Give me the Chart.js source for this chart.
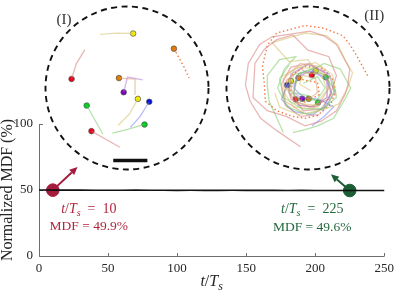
<!DOCTYPE html>
<html><head><meta charset="utf-8">
<script src="https://cdn.jsdelivr.net/npm/chart.js@4"></script>
<style>
html,body{margin:0;padding:0;background:#fff;overflow:hidden}
#wrap{position:relative;width:399px;height:293px}
#main{position:absolute;left:0;top:0}
.inset{position:absolute;width:180px;height:180px}
</style></head><body>
<div id="wrap">
<canvas id="main" width="399" height="293"></canvas>
<div class="inset" style="left:37px;top:-2px"><canvas id="cI" width="180" height="180"></canvas></div>
<div class="inset" style="left:218px;top:-2px"><canvas id="cII" width="180" height="180"></canvas></div>
</div>
<script>
// ---------- main series ----------
const tSteps = [0,10,20,30,40,50,60,70,80,90,100,110,120,130,140,150,160,170,180,190,200,210,220,230,240,250];
const mdfValues = [50.0,49.9,49.9,49.9,49.8,49.8,49.8,49.9,49.8,49.8,49.7,49.8,49.7,49.7,49.8,49.7,49.7,49.7,49.6,49.7,49.6,49.6,49.6,49.6,49.6,49.6];
const xTicks = [0,50,100,150,200,250];
const yTicks = [0,50,100];
const highlightT = [10,225];
const highlightMDF = [49.9,49.6];
const highlightColors = ['#a51b3b','#1d5e35'];
const highlightTextColors = ['#b0263f','#23693d'];
const arrowTipT = [27.9,211.4];
const arrowTipMDF = [67.4,62.0];

// ---------- inset (I) trails (first point = particle position) ----------
const I_yellow1 = [[6.5,57.5],[-11.5,58],[-28.5,56.5]];
const I_orange1 = [[49.5,41.5],[54.5,32.5],[60.5,21.5],[65.5,10.5]];
const I_red1    = [[-58.5,9.5],[-53.5,25.5],[-44.5,40.5]];
const I_orange2 = [[-8.5,10.5],[8.5,9.5],[8.5,-7.5]];
const I_purple  = [[-3.5,-4.5],[0.5,11.5],[16.5,8.5]];
const I_yellow2 = [[11.5,-11.5],[2.5,-27.5],[-9.5,-39.5]];
const I_blue    = [[23.5,-14.5],[13.5,-30.5],[3.5,-41.5]];
const I_green1  = [[-42.5,-18.5],[-25.5,-48.5]];
const I_green2  = [[18.5,-38.5],[1.5,-43.5],[-15.5,-47.5]];
const I_red2    = [[-37.5,-45.5],[-7.5,-62.5]];
const I_scaleBar = [[-14.5,-76.5],[21.5,-76.5]];

// ---------- inset (II) trails ----------
const II_red1 = [[4,13.7],[-8,20],[-23,8],[-18,-12],[2,-20],[22,-12],[30,13],[22,33],[0,40],[-16,56],[-33,51],[-46,41],[-56,26],[-58,-10],[-43,-24],[-23,-30],[-3,-40],[14,-35],[30,-24],[39,-7],[42,3],[44,20],[37,33],[30,46],[17,55],[2,60],[-38,54],[-51,46],[-63,26],[-66,3],[-61,-14],[-50,-32],[-33,-45],[-8,-62]];
const II_red2 = [[-13,-12],[-5,-24],[14,-22],[25,-6],[20,14],[2,26],[-18,22],[-28,4],[-24,-18],[-8,-30],[12,-28]];
const II_orange1 = [[-10,10.7],[-3,8],[10,6],[12,-7],[-3,-15],[-18,-7],[-18,13],[-3,23],[17,20],[27,8],[29,-4],[24,-17],[10,-29],[-3,-32],[-16,-30],[-33,-24],[-45,-14],[-46,3],[-48,23],[-43,45],[-33,58],[-3,66],[17,63],[37,55],[44,46],[52,33],[59,20],[64,11]];
const II_orange2 = [[0.7,-11.3],[10,-5],[8,10],[-8,14],[-18,0],[-10,-18],[10,-20],[22,0],[15,22],[-8,26],[-26,10],[-24,-14],[-5,-26]];
const II_green1 = [[18.7,11.3],[28,-2],[20,-20],[0,-28],[-22,-20],[-32,0],[-25,20],[-13,33],[-30,30],[-43,13],[-43,3],[-41,-14],[-26,-47]];
const II_green2 = [[10.7,-15.3],[0,-8],[-15,-5],[-10,15],[10,22],[17,26],[34,20],[45,0],[40,-10],[27,-32],[10,-40],[-3,-44],[-16,-47]];
const II_yellow1 = [[8,17.7],[0,30],[-20,28],[-38,48],[-3,58],[20,55],[32,45],[39,30],[47,16],[42,0],[32,-17],[12,-24],[-10,-28],[-30,-20],[-35,-5]];
const II_yellow2 = [[-18,7.3],[-25,-5],[-15,-20],[5,-22],[20,-10],[22,8],[10,20],[-10,22],[-28,12]];
const II_blue = [[-22,3],[-28,-12],[-15,-25],[5,-28],[17,-20],[24,-5],[20,10],[5,18],[-10,15],[-15,0],[-5,-10],[12,-12],[27,-20],[17,-30],[4,-40]];
const II_purple = [[-6,-11.3],[-15,-5],[-12,12],[5,18],[20,8],[20,-10],[5,-20],[-10,-18],[-20,-5],[-18,15],[0,25],[22,15],[28,-5],[15,-25]];
const II_greenLoop = [[-5,5],[10,12],[18,0],[10,-12],[-8,-14],[-20,-2],[-15,14],[5,20],[25,10],[30,-10],[15,-22],[-6,-22],[-26,-10],[-30,10],[-20,24]];
const II_tanLoop = [[3,-3],[-9,4],[-4,16],[14,15],[20,-2],[8,-18],[-14,-16],[-24,2],[-14,20],[8,27],[26,14],[30,-8]];

const SERIF = '"Liberation Serif","Times New Roman",serif';
const C = {
  red:   {line:'rgba(215,110,110,0.5)', dot:'#e8001a'},
  yellow:{line:'rgba(210,195,110,0.55)', dot:'#f5ee00'},
  orange:{line:'rgba(220,160,110,0.55)', dot:'#e07b00'},
  orangeDot:{line:'rgba(245,110,50,0.9)', dot:'#e07b00', dash:[1.5,2.5]},
  purple:{line:'rgba(170,110,220,0.5)', dot:'#7d00b8'},
  blue:  {line:'rgba(110,120,235,0.5)', dot:'#0010e0'},
  green: {line:'rgba(110,200,90,0.5)', dot:'#00d020'}
};

function drawTts(ctx, cx, baseline, suffix, size, color) {
  const parts = [
    {t:'t', f:`italic ${size}px ${SERIF}`, dy:0},
    {t:'/', f:`${size}px ${SERIF}`, dy:0},
    {t:'T', f:`italic ${size}px ${SERIF}`, dy:0},
    {t:'s', f:`italic ${Math.round(size*0.72)}px ${SERIF}`, dy:size*0.22},
    {t:suffix, f:`${size}px ${SERIF}`, dy:0}
  ];
  let w = 0;
  parts.forEach(p => { ctx.font = p.f; p.w = ctx.measureText(p.t).width; w += p.w; });
  let x = cx - w/2;
  ctx.fillStyle = color; ctx.textAlign = 'left'; ctx.textBaseline = 'alphabetic';
  parts.forEach(p => { ctx.font = p.f; ctx.fillText(p.t, x, baseline + p.dy); x += p.w; });
}

const axisPlugin = {
  id:'axisPlugin',
  beforeDatasetsDraw(chart) {
    const {ctx, scales:{x, y}} = chart;
    ctx.save();
    ctx.strokeStyle = '#6e6e6e'; ctx.lineWidth = 1;
    const y0 = Math.round(y.getPixelForValue(0)) + 0.5;
    const x0 = Math.round(x.getPixelForValue(0)) + 0.5;
    ctx.beginPath();
    ctx.moveTo(x0, y0); ctx.lineTo(x.getPixelForValue(xTicks[xTicks.length-1]), y0);
    ctx.moveTo(x0, y0); ctx.lineTo(x0, y.getPixelForValue(yTicks[yTicks.length-1]));
    xTicks.forEach(v => { const px = Math.round(x.getPixelForValue(v)) + 0.5; ctx.moveTo(px, y0); ctx.lineTo(px, y0 - 3.5); });
    yTicks.forEach(v => { const py = Math.round(y.getPixelForValue(v)) + 0.5; ctx.moveTo(x0, py); ctx.lineTo(x0 + 3.5, py); });
    ctx.stroke();
    // arrows
    highlightT.forEach((t, i) => {
      const sx = x.getPixelForValue(t), sy = y.getPixelForValue(highlightMDF[i]);
      const ex = x.getPixelForValue(arrowTipT[i]), ey = y.getPixelForValue(arrowTipMDF[i]);
      const ang = Math.atan2(ey - sy, ex - sx);
      const hl = 8, hw = 3.6;
      const bx = ex - hl*Math.cos(ang), by = ey - hl*Math.sin(ang);
      ctx.strokeStyle = highlightColors[i]; ctx.fillStyle = highlightColors[i]; ctx.lineWidth = 2;
      ctx.beginPath(); ctx.moveTo(sx, sy); ctx.lineTo(bx, by); ctx.stroke();
      ctx.beginPath(); ctx.moveTo(ex, ey);
      ctx.lineTo(bx + hw*Math.sin(ang), by - hw*Math.cos(ang));
      ctx.lineTo(bx - hw*Math.sin(ang), by + hw*Math.cos(ang));
      ctx.closePath(); ctx.fill();
    });
    ctx.restore();
  },
  afterDraw(chart) {
    const {ctx, scales:{x, y}, chartArea} = chart;
    ctx.save();
    const offs = [36, -37.5];
    highlightT.forEach((t, i) => {
      const px = x.getPixelForValue(t) + offs[i], py = y.getPixelForValue(highlightMDF[i]);
      drawTts(ctx, px, py + 22.8, '\u2002=\u2002' + t, 14, highlightTextColors[i]);
      ctx.font = `13.5px ${SERIF}`; ctx.textAlign = 'center'; ctx.textBaseline = 'alphabetic';
      ctx.fillStyle = highlightTextColors[i];
      ctx.fillText('MDF = ' + highlightMDF[i].toFixed(1) + '%', px, py + 40.3);
    });
    drawTts(ctx, (chartArea.left + chartArea.right)/2, 286, '', 16, '#262626');
    ctx.restore();
  }
};

new Chart(document.getElementById('main'), {
  type:'line',
  data:{datasets:[
    {data: tSteps.map((t,i)=>({x:t, y:mdfValues[i]})), borderColor:'#111', borderWidth:1.6, pointRadius:0, tension:0, clip:false},
    {data: highlightT.map((t,i)=>({x:t, y:highlightMDF[i]})), showLine:false, pointRadius:6.3, pointBackgroundColor:highlightColors, pointBorderColor:highlightColors, pointBorderWidth:1, clip:false}
  ]},
  options:{
    animation:false, responsive:false, events:[],
    plugins:{legend:{display:false}, tooltip:{enabled:false}},
    layout:{padding:{top:124, right:10, left:0, bottom:0}},
    scales:{
      x:{type:'linear', min:0, max:250,
         ticks:{stepSize:50, font:{family:SERIF, size:13}, color:'#262626', padding:5, maxRotation:0},
         grid:{display:false, drawTicks:false}, border:{display:false},
         afterFit(s){ s.height = 37; }},
      y:{type:'linear', min:0, max:100,
         ticks:{stepSize:50, font:{family:SERIF, size:13}, color:'#262626', padding:6},
         grid:{display:false, drawTicks:false}, border:{display:false},
         title:{display:true, text:'Normalized MDF (%)', font:{family:SERIF, size:16, lineHeight:1}, color:'#262626', padding:{top:0,bottom:0}},
         afterFit(s){ s.width = 39; }}
    }
  },
  plugins:[axisPlugin]
});

// ---------- insets ----------
function circlePlugin(label, lx, ly) {
  return {
    id:'circ',
    afterDatasetsDraw(chart) {
      const {ctx, scales:{x, y}} = chart;
      const cx = x.getPixelForValue(0), cy = y.getPixelForValue(0);
      const r = x.getPixelForValue(86) - cx;
      ctx.save();
      ctx.setLineDash([6, 4.5]); ctx.lineWidth = 1.9; ctx.strokeStyle = '#111';
      ctx.beginPath(); ctx.arc(cx, cy, r, 0, Math.PI*2); ctx.stroke();
      ctx.setLineDash([]);
      ctx.font = `15px ${SERIF}`; ctx.fillStyle = '#333'; ctx.textAlign = 'center'; ctx.textBaseline = 'middle';
      ctx.fillText(label, x.getPixelForValue(lx), y.getPixelForValue(ly));
      ctx.restore();
    }
  };
}

function makeInset(id, trails, extra, label, lx, ly) {
  const ds = [];
  extra.forEach(e => ds.push(e));
  trails.forEach(tr => ds.push({
    data: tr.pts.map(p => ({x:p[0], y:p[1]})), showLine:true, borderColor: tr.c.line,
    borderWidth: tr.c.dash ? 1.4 : 1.3, borderDash: tr.c.dash || [], pointRadius:0, tension:0
  }));
  ds.push({
    data: trails.map(tr => ({x:tr.pts[0][0], y:tr.pts[0][1]})), showLine:false, pointRadius:2.8,
    pointBackgroundColor: trails.map(tr => tr.c.dot), pointBorderColor:'#555', pointBorderWidth:0.7
  });
  new Chart(document.getElementById(id), {
    type:'scatter', data:{datasets:ds},
    options:{animation:false, responsive:false, events:[], layout:{padding:0},
      plugins:{legend:{display:false}, tooltip:{enabled:false}},
      scales:{x:{type:'linear', min:-90, max:90, display:false}, y:{type:'linear', min:-90, max:90, display:false}}},
    plugins:[circlePlugin(label, lx, ly)]
  });
}

makeInset('cI', [
  {pts:I_yellow1, c:C.yellow}, {pts:I_orange1, c:C.orangeDot}, {pts:I_red1, c:C.red},
  {pts:I_orange2, c:C.orange}, {pts:I_purple, c:C.purple}, {pts:I_yellow2, c:C.yellow},
  {pts:I_blue, c:C.blue}, {pts:I_green1, c:C.green}, {pts:I_green2, c:C.green}, {pts:I_red2, c:C.red}
], [
  {data: I_scaleBar.map(p=>({x:p[0], y:p[1]})), showLine:true, borderColor:'#111', borderWidth:3.5, pointRadius:0}
], '(I)', -66.5, 72);

makeInset('cII', [
  {pts:II_red1, c:C.red}, {pts:II_yellow1, c:C.yellow}, {pts:II_green2, c:C.green},
  {pts:II_green1, c:C.green}, {pts:II_blue, c:C.blue}, {pts:II_purple, c:C.purple},
  {pts:II_orange2, c:C.orange}, {pts:II_yellow2, c:C.yellow}, {pts:II_red2, c:C.red},
  {pts:II_orange1, c:C.orangeDot}
], [
  {data: II_greenLoop.map(p=>({x:p[0], y:p[1]})), showLine:true, borderColor:C.green.line, borderWidth:1.2, pointRadius:0},
  {data: II_tanLoop.map(p=>({x:p[0], y:p[1]})), showLine:true, borderColor:C.yellow.line, borderWidth:1.2, pointRadius:0}
], '(II)', 70, 75.5);
</script>
</body></html>
